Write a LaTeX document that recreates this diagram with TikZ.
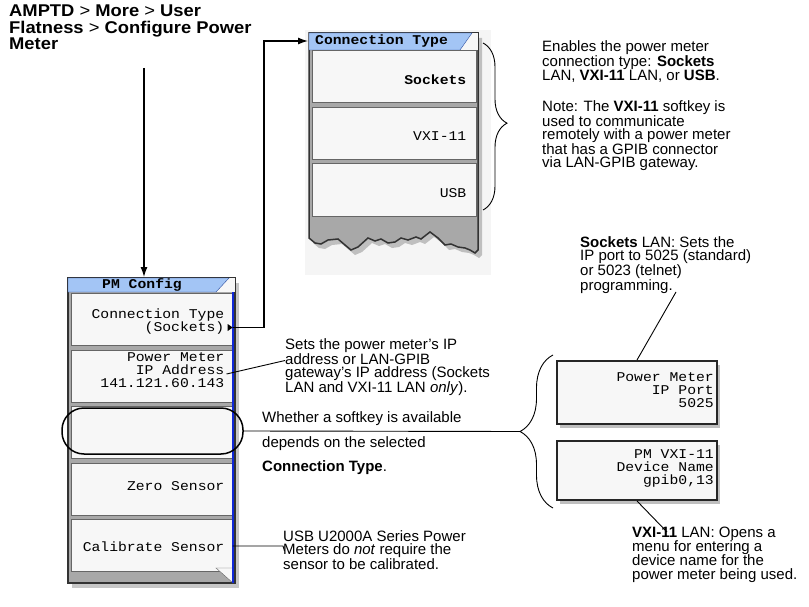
\documentclass[tikz,border=0pt]{standalone}
\usepackage{fontspec}
\setmainfont{Liberation Sans}
\setmonofont{Liberation Mono}[FakeStretch=1.1]
\newfontfamily\menufamily{Liberation Sans}[FakeStretch=1.08]
\usepackage{xcolor}
\usetikzlibrary{shapes.geometric, arrows.meta, positioning, calc, shadows, decorations.pathreplacing}

\definecolor{keyfill}{HTML}{F7F7F7}
\definecolor{panelgray}{HTML}{A8A8A8}
\definecolor{titleblue}{HTML}{A3C5F5}
\definecolor{titleline}{HTML}{3050A0}
\definecolor{edgeblue}{HTML}{1028D8}

\newcommand{\notefont}{\fontsize{15}{13.4}\selectfont}
\newcommand{\keyfont}{\ttfamily\fontsize{13.4}{13}\selectfont}
\newcommand{\menufont}{\menufamily\fontsize{17}{16.5}\selectfont}

\tikzset{
  softkey/.style = {
    rectangle, draw=black!60, fill=keyfill, line width=1pt,
    minimum width=161pt, minimum height=52pt, inner sep=0pt
  },
  ctkey/.style = {softkey, minimum width=164pt},
  valuebox/.style = {
    rectangle, draw=black!85, line width=2pt, fill=keyfill,
    minimum width=160pt, inner sep=0pt,
    drop shadow={shadow xshift=3pt, shadow yshift=-4pt, fill=black, opacity=0.25}
  },
  panelframe/.style = {
    draw=black!80, line width=1.5pt, fill=panelgray,
    drop shadow={shadow xshift=4pt, shadow yshift=-5pt, fill=black, opacity=0.22}
  },
  keylabel/.style = {font=\keyfont, align=right, anchor=east, inner sep=0pt},
  keytitle/.style = {font=\keyfont\bfseries, inner sep=0pt},
  note/.style = {font=\notefont, align=left, anchor=north west, inner sep=0pt},
  myarrow/.style = {-{Latex[length=10pt,width=7pt]}, line width=1.3pt},
  link/.style = {line width=0.9pt},
  bracket/.style = {decorate, line width=0.9pt}
}

\begin{document}
\begin{tikzpicture}[x=1pt, y=-1pt]
\useasboundingbox (0,0) rectangle (809,607);

% ----- CONNECTION TYPE PANEL (torn off at the bottom) -----
\fill[black!4] (305,30) rectangle (491,275);
\draw[panelframe] (309,33) -- (478,33) -- (478,250) -- (475,253) -- (470,250)
  -- (465,248) -- (458,247) -- (451,244) -- (445,245) -- (438,238) -- (430,232)
  -- (421,239) -- (416,237) -- (408,240) -- (401,238) -- (395,242) -- (388,243)
  -- (381,239) -- (375,241) -- (368,238) -- (358,247) -- (351,250) -- (345,245)
  -- (338,239) -- (328,240) -- (321,244) -- (315,243) -- (309,238) -- cycle;
\fill[keyfill] (309,33) rectangle (478,50);
\draw[titleline, fill=titleblue] (309,50) -- (309,33) -- (472,33) -- (460,50) -- cycle;
\node[keytitle, anchor=west] (B) at (315,41.5) {Connection Type};

\node[ctkey]                   (C) at (394,77) {};
\node[ctkey, below=3.5pt of C] (D) {};
\node[ctkey, below=3.5pt of D] (E) {};
\node[keylabel, font=\keyfont\bfseries] (C1) at ($(C.east)+(-10,3)$) {Sockets};
\node[keylabel] (D1) at ($(D.east)+(-10,3)$) {VXI-11};
\node[keylabel] (E1) at ($(E.east)+(-10,3)$) {USB};

% ----- PM CONFIG PANEL -----
\draw[panelframe] (68,278) rectangle (235,583);
\fill[keyfill] (68,278) rectangle (235,292);
\draw[titleline, fill=titleblue] (68,292) -- (68,278) -- (229,278) -- (216,292) -- cycle;
\node[keytitle] (F) at (142,285) {PM Config};

\node[softkey]                   (G) at (151.5,319.5) {};
\node[softkey, below=3.5pt of G] (H) {};
\node[softkey, below=3.5pt of H] (I) {};
\node[softkey, below=3.5pt of I] (J) {};
\node[softkey, below=3.5pt of J] (K) {};
\draw[black!60, fill=keyfill] (216,568) -- (233,583) -- (233,568) -- cycle;
\draw[edgeblue, line width=1.2pt] (233,292) -- (233,583);

\node[keylabel] (G1) at ($(G.east)+(-8,2.5)$) {Connection Type\\(Sockets)};
\node[isosceles triangle, fill=black, inner sep=0pt, minimum height=5pt,
      minimum width=7pt, isosceles triangle stretches] (G2) at ($(G.east)+(-3,8)$) {};
\node[keylabel] (H1) at ($(H.east)+(-8,-6)$) {Power Meter\\IP Address\\141.121.60.143};
\node[keylabel] (J1) at ($(J.east)+(-8,-3)$) {Zero Sensor};
\node[keylabel] (K1) at ($(K.east)+(-8,1.5)$) {Calibrate Sensor};

% ring round the empty softkey
\node[draw, rounded corners=22pt, line width=1.5pt, minimum width=181pt,
      minimum height=46pt] (L) at (152.5,431) {};

% ----- VALUE BOXES (right) -----
\node[valuebox, minimum height=63pt] (M) at (637,392.5) {};
\node[valuebox, minimum height=59pt] (N) at (637,470.5) {};
\node[keylabel] (M1) at ($(M.east)+(-4,-2.5)$) {Power Meter\\IP Port\\5025};
\node[keylabel] (N1) at ($(N.east)+(-4,-2.5)$) {PM VXI-11\\Device Name\\gpib0,13};

% ----- TEXT -----
\node[note, font=\menufont] (A) at (9,5)
  {\textbf{AMPTD} > \textbf{More} > \textbf{User}\\
   \textbf{Flatness} > \textbf{Configure Power}\\
   \textbf{Meter}};
\node[note] (O) at (542,40)
  {Enables the power meter\\connection type: \textbf{Sockets}\\LAN, \textbf{VXI-11} LAN, or \textbf{USB}.};
\node[note] (P) at (542,100)
  {Note: The \textbf{VXI-11} softkey is\\used to communicate\\remotely with a power meter\\that has a GPIB connector\\via LAN-GPIB gateway.};
\node[note] (Q) at (580,236)
  {\textbf{Sockets} LAN: Sets the\\IP port to 5025 (standard)\\or 5023 (telnet)\\programming.};
\node[note] (R) at (285,338.5)
  {Sets the power meter’s IP\\address or LAN-GPIB\\gateway’s IP address (Sockets\\LAN and VXI-11 LAN \textit{only}).};
\node[note, font=\fontsize{15}{24.5}\selectfont] (S) at (262,411.5)
  {Whether a softkey is available\\depends on the selected\\\textbf{Connection Type}.};
\node[note] (T) at (283,530.5)
  {USB U2000A Series Power\\Meters do \textit{not} require the\\sensor to be calibrated.};
\node[note, font=\fontsize{15}{14}\selectfont] (U) at (632,526.5)
  {\textbf{VXI-11} LAN: Opens a\\menu for entering a\\device name for the\\power meter being used.};

% ----- CONNECTOR END POINTS -----
\coordinate (a1) at (144,68);
\coordinate (a2) at (144,277);
\coordinate (b1) at (264,0);
\coordinate (b2) at (308,41);
\coordinate (c1) at (483,43);
\coordinate (c2) at (483,210);
\coordinate (d1) at (553,508);
\coordinate (d2) at (553,355);
\coordinate (d3) at (520,431.5);
\coordinate (e1) at (285,360.5);
\coordinate (f1) at (283,546);
\coordinate (g1) at (676,292);
\coordinate (g2) at (667,532);

% ----- ARROWS -----
% menu path --> PM Config
\draw[myarrow] (a1) -- (a2);
% Connection Type softkey opens its own menu
\draw[myarrow] (G2.east) -- (G2.east -| b1) |- (b2);

% braces
\draw[bracket, decoration={brace, amplitude=24pt, aspect=0.48}] (c1) -- (c2);
\draw[bracket, decoration={brace, amplitude=33pt}] (d1) -- (d2);

% callout lines
\draw[link] ($(H1.east)+(2,4)$) -- (e1);
\draw[link] (L.east) -- (d3);
\draw[link] (K.east |- f1) -- (f1) -- ++(1.5,5);
\draw[link] (g1) -- (M.north);
\draw[link] (N.south) -- (g2);

\end{tikzpicture}
\end{document}
